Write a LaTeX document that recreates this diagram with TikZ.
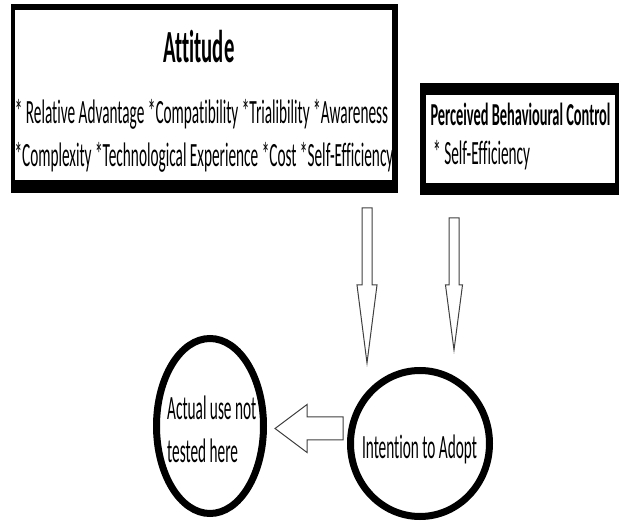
\documentclass[tikz,border=0pt]{standalone}
\usepackage{fontspec}
\newfontfamily\narrowfont[FakeStretch=0.45,Ligatures=NoCommon]{Carlito}
\usetikzlibrary{shapes.geometric,calc}
\tikzset{%
  boxframe/.style = {fill=black},%
  boxface/.style  = {fill=white},%
  oval/.style     = {ellipse, draw, line width=7pt, inner sep=0pt},%
  bodytext/.style = {font=\narrowfont\fontsize{34}{40}\selectfont,%
                     inner sep=0pt, anchor=base},%
  boldtext/.style = {bodytext, font=\narrowfont\bfseries\fontsize{32}{40}\selectfont},%
  headtext/.style = {bodytext, font=\narrowfont\bfseries\fontsize{46}{50}\selectfont},%
  hollow/.style   = {draw=black!75, fill=white, line width=1pt}%
}
% block arrow: foot, tip, half shaft, half head, head length
\newcommand{\hollowarrow}[5]{%
  \draw[hollow] ($(#1)!#3!90:(#2)$) -- ($(#2)!#5!(#1)!#3!90:(#2)$)
    -- ($(#2)!#5!(#1)!#4!90:(#2)$) -- (#2)
    -- ($(#2)!#5!(#1)!#4!-90:(#2)$) -- ($(#2)!#5!(#1)!#3!-90:(#2)$)
    -- ($(#1)!#3!-90:(#2)$) -- cycle;}

\begin{document}
\begin{tikzpicture}[x=1pt,y=-1pt]
	\useasboundingbox (0,0) rectangle (619,521);
	% attitude box
	\fill[boxframe] (11,4) rectangle (398,193);
	\fill[boxface] (15,10) rectangle (392,180);
	\node[headtext] (atttitle) at (199,63) {Attitude};
	\node[bodytext] (attlistA) at (201.5,124) {* Relative Advantage *Compatibility *Trialibility *Awareness};
	\node[bodytext] (attlistB) at (204,167) {*Complexity *Technological Experience *Cost *Self-Efficiency};
	% perceived behavioural control box
	\fill[boxframe] (420,83) rectangle (619,195);
	\fill[boxface] (426,95) rectangle (615,183);
	\node[boldtext] (pbctitle) at (520.5,126) {Perceived Behavioural Control};
	\node[bodytext, anchor=base west] (pbclist) at (433,165) {* Self-Efficiency};
	% outcomes
	\node[oval, minimum width=107, minimum height=175] (actual) at (210,426) {};
	\node[bodytext, anchor=base west] (actualA) at (167,420) {Actual use not};
	\node[bodytext, anchor=base west] (actualB) at (167,463) {tested here};
	\node[oval, minimum width=139, minimum height=146] (intent) at (420,443.5) {};
	\node[bodytext] (intenttxt) at (419.5,458) {Intention to Adopt};
	% arrows
	\coordinate (attfoot) at (367,208);
	\coordinate (atttip)  at (367,363);
	\coordinate (pbcfoot) at (454,218);
	\coordinate (pbctip)  at (454,350);
	\coordinate (intfoot) at (343,428.5);
	\coordinate (inttip)  at (275,428.5);
	\hollowarrow{attfoot}{atttip}{5pt}{10pt}{78pt}
	\hollowarrow{pbcfoot}{pbctip}{5pt}{8.5pt}{65pt}
	\hollowarrow{intfoot}{inttip}{11.5pt}{24pt}{32pt}
\end{tikzpicture}
\end{document}
